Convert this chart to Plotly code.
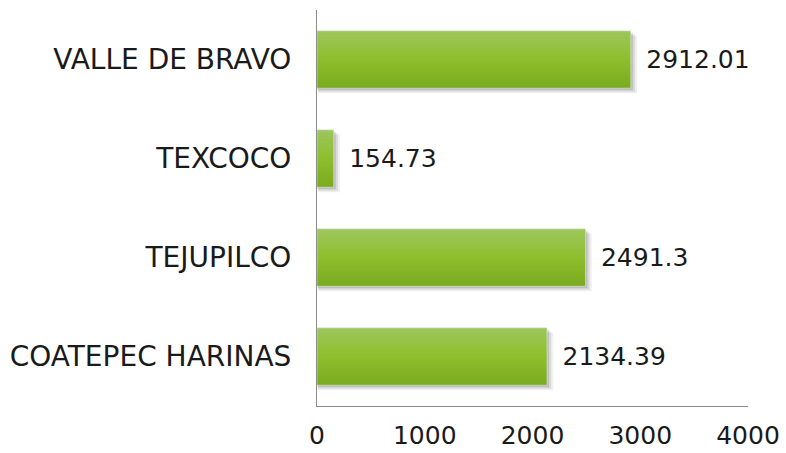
import plotly.graph_objects as go

categories = ["COATEPEC HARINAS", "TEJUPILCO", "TEXCOCO", "VALLE DE BRAVO"]
values = [2134.39, 2491.3, 154.73, 2912.01]
value_labels = ["2134.39", "2491.3", "154.73", "2912.01"]
x_ticks = [0, 1000, 2000, 3000, 4000]

FONT = "DejaVu Sans"
BAR_W = 0.58
fig = go.Figure()

# soft drop shadow
for dx, dy, a in [(45, 0.05, 0.06), (30, 0.035, 0.09), (15, 0.02, 0.12)]:
    fig.add_trace(go.Bar(
        y=categories, x=[v + dx for v in values], base=[dx * 0.3] * len(values),
        orientation="h", width=BAR_W, offset=-BAR_W / 2 - dy,
        marker=dict(color=f"rgba(0,0,0,{a})", line=dict(width=0)),
        hoverinfo="skip", showlegend=False))

# vertical gradient via bands
top = (158, 198, 92)
mid = (143, 191, 46)
bot = (123, 171, 32)
N = 30
for i in range(N):
    t = i / (N - 1)  # 0 bottom -> 1 top
    if t < 0.5:
        s = t / 0.5
        c = tuple(bot[k] + (mid[k] - bot[k]) * s for k in range(3))
    else:
        s = (t - 0.5) / 0.5
        c = tuple(mid[k] + (top[k] - mid[k]) * s for k in range(3))
    w = BAR_W / N
    fig.add_trace(go.Bar(
        y=categories, x=values, orientation="h",
        width=w * 1.5 if i < N - 1 else w, offset=-BAR_W / 2 + i * w,
        marker=dict(color="rgb(%d,%d,%d)" % c, line=dict(width=0)),
        hoverinfo="skip", showlegend=False))

# value labels
fig.add_trace(go.Bar(
    y=categories, x=values, orientation="h", width=BAR_W,
    marker=dict(color="rgba(0,0,0,0)"),
    text=["\u2002" + s for s in value_labels],
    textposition="outside", cliponaxis=False,
    textfont=dict(family=FONT, size=25, color="#1a1a1a"),
    hoverinfo="skip", showlegend=False))

fig.update_layout(
    width=786, height=453,
    barmode="overlay",
    plot_bgcolor="white", paper_bgcolor="white",
    margin=dict(l=317, r=38, t=10, b=47, autoexpand=False),
    font=dict(family=FONT, size=26, color="#1a1a1a"),
    xaxis=dict(range=[0, 4000], tickvals=x_ticks, showgrid=False, zeroline=False,
               showline=True, linecolor="#8c8c8c", linewidth=1,
               ticks="", ticklabelstandoff=7, automargin=False,
               tickfont=dict(family=FONT, size=25, color="#1a1a1a")),
    yaxis=dict(categoryorder="array", categoryarray=categories,
               showgrid=False, zeroline=False, showline=True,
               linecolor="#8c8c8c", linewidth=1, ticks="",
               ticklabelstandoff=19, automargin=False,
               tickfont=dict(family=FONT, size=28, color="#1a1a1a")),
)

fig.write_html("out.html", config={"displayModeBar": False},
               post_script="document.body.style.margin='0';document.body.style.overflow='hidden';")
